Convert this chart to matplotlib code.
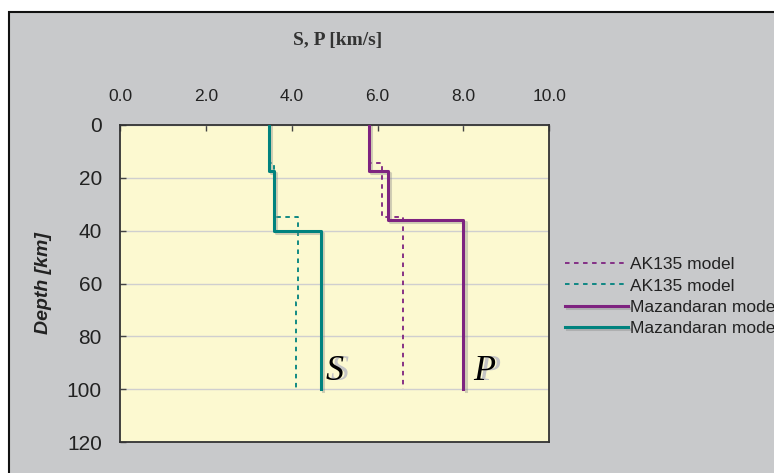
import matplotlib
matplotlib.use("Agg")
import matplotlib.pyplot as plt
import matplotlib.patheffects as pe
import matplotlib.transforms as mtransforms
from matplotlib.patches import Rectangle

# layer tops [km] and velocities [km/s], every profile ends at 100 km
maz_p_tops = [0, 17.5, 36]
maz_p_vel = [5.8, 6.25, 8.0]
maz_s_tops = [0, 17.5, 40]
maz_s_vel = [3.48, 3.59, 4.68]
ak_p_tops = [0, 14.5, 35]
ak_p_vel = [5.8, 6.1, 6.6]
ak_s_tops = [0, 14.5, 35, 67]
ak_s_vel = [3.47, 3.58, 4.15, 4.1]
bottom_depth = 100

x_ticks = [0, 2, 4, 6, 8, 10]
y_ticks = [0, 20, 40, 60, 80, 100, 120]

PURPLE = "#7e2380"
TEAL = "#00827e"
GRAY_BG = "#c8c9cb"
PLOT_BG = "#fcf9d0"


def profile(tops, vel, bottom=bottom_depth):
    depth, v = [], []
    for i, top in enumerate(tops):
        nxt = tops[i + 1] if i + 1 < len(tops) else bottom
        depth += [top, nxt]
        v += [vel[i], vel[i]]
    return v, depth


fig = plt.figure(figsize=(7.74, 4.73), dpi=100)
fig.patch.set_facecolor("white")
fig.patches.append(Rectangle((9 / 774, -0.1), 1.0, 1.1 - 12 / 473,
                             transform=fig.transFigure, facecolor=GRAY_BG,
                             edgecolor="#111111", linewidth=1.5, zorder=-5))

ax = fig.add_axes([120 / 774, 1 - 442 / 473, 429.3 / 774, 317 / 473])
ax.set_facecolor(PLOT_BG)

shadow = [pe.SimpleLineShadow(offset=(1.5, -1.5), shadow_color="gray", alpha=0.35), pe.Normal()]
dash = (0, (2.5, 2.5))

x, y = profile(ak_p_tops, ak_p_vel)
ax.plot(x, y, color=PURPLE, lw=1.3, linestyle=dash, label="AK135 model", zorder=3)
x, y = profile(ak_s_tops, ak_s_vel)
ax.plot(x, y, color=TEAL, lw=1.3, linestyle=dash, label="AK135 model", zorder=3)
x, y = profile(maz_p_tops, maz_p_vel)
ax.plot(x, y, color=PURPLE, lw=2.2, label="Mazandaran model", zorder=4,
        path_effects=shadow)
x, y = profile(maz_s_tops, maz_s_vel)
ax.plot(x, y, color=TEAL, lw=2.2, label="Mazandaran model", zorder=4,
        path_effects=shadow)

ax.set_xlim(0, 10)
ax.set_ylim(120, 0)
ax.xaxis.tick_top()
ax.set_xticks(x_ticks)
ax.set_xticklabels([f"{t:.1f}" for t in x_ticks])
ax.set_yticks(y_ticks)
ax.tick_params(axis="x", direction="in", length=4, width=1, color="#444444",
               pad=15, labelsize=12.5, labelcolor="#222222")
ax.tick_params(axis="y", direction="in", length=4.5, width=1, color="#444444",
               pad=13, labelsize=15, labelcolor="#222222")
for lab in ax.get_xticklabels() + ax.get_yticklabels():
    lab.set_family(["Liberation Sans", "DejaVu Sans"])

ax.yaxis.grid(True, color="#cfcfcf", lw=1)
ax.set_axisbelow(True)
for sp in ax.spines.values():
    sp.set_color("#333333")
    sp.set_linewidth(1.3)

ax.set_ylabel("Depth [km]", fontsize=14, fontweight="bold", fontstyle="italic",
              family=["Liberation Sans", "DejaVu Sans"], color="#222222")
ax.yaxis.set_label_coords(-(120 - 52) / 429.3, 0.5)

fig.text(338 / 774, 1 - 41 / 473, "S, P [km/s]", ha="center", va="center",
         fontsize=14, fontweight="bold", family=["Liberation Serif", "DejaVu Serif"],
         color="#333333")

# S / P annotations with a grey drop copy
shift = mtransforms.offset_copy(ax.transData, fig=fig, x=5, y=0, units="dots")
for xv, letter in [(4.8, "S"), (8.22, "P")]:
    ax.text(xv, 96.5, letter, transform=shift, fontsize=26, fontstyle="italic",
            family=["Liberation Serif", "DejaVu Serif"], color="#c4c4c4",
            ha="left", va="baseline", zorder=5)
    ax.text(xv, 96.5, letter, fontsize=26, fontstyle="italic",
            family=["Liberation Serif", "DejaVu Serif"], color="black",
            ha="left", va="baseline", zorder=6)

leg = ax.legend(loc="upper left", bbox_to_anchor=(565 / 774, 1 - 257 / 473),
                bbox_transform=fig.transFigure, frameon=False,
                handlelength=3.6, handletextpad=0.15, labelspacing=0.36,
                borderpad=0, borderaxespad=0,
                prop={"family": ["Liberation Sans", "DejaVu Sans"], "size": 12.5})
for t in leg.get_texts():
    t.set_color("#222222")

fig.savefig("out.png", dpi=100)
